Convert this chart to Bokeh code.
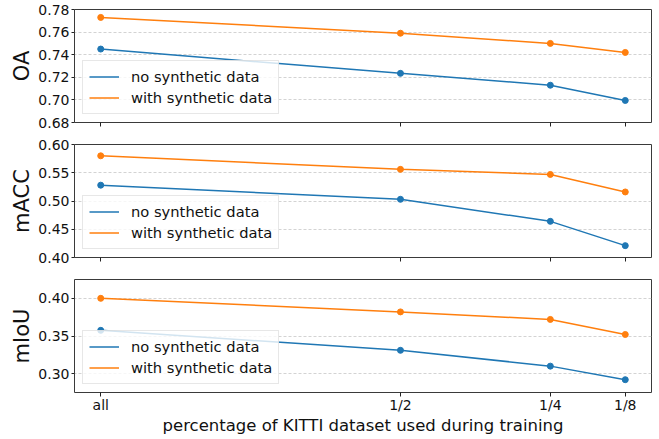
import math
from bokeh.plotting import figure
from bokeh.layouts import column, row
from bokeh.models import Range1d, FixedTicker, Legend, LegendItem
from bokeh.embed import file_html
from bokeh.resources import INLINE

# ---- data ----
fractions = [1.0, 0.5, 0.25, 0.125]
tick_labels = ["all", "1/2", "1/4", "1/8"]
series_names = ["no synthetic data", "with synthetic data"]

oa_no = [0.745, 0.7235, 0.713, 0.6995]
oa_with = [0.773, 0.759, 0.750, 0.742]

macc_no = [0.528, 0.503, 0.464, 0.421]
macc_with = [0.580, 0.556, 0.547, 0.516]

miou_no = [0.3575, 0.331, 0.310, 0.292]
miou_with = [0.400, 0.382, 0.372, 0.352]

metric_names = ["OA", "mACC", "mIoU"]
y_limits = [(0.68, 0.78), (0.40, 0.60), (0.275, 0.425)]
y_ticks = [[0.68, 0.70, 0.72, 0.74, 0.76, 0.78],
           [0.40, 0.45, 0.50, 0.55, 0.60],
           [0.30, 0.35, 0.40]]
no_series = [oa_no, macc_no, miou_no]
with_series = [oa_with, macc_with, miou_with]

BLUE = "#1f77b4"
ORANGE = "#ff7f0e"
FONT = "DejaVu Sans"
X_START, X_END = 1.04375, 0.08125

borders = [(9, 11), (11, 11), (11, 47)]
FRAME_H = 113
LABEL_W = 35        # width of the strip holding the rotated y-axis title
LABEL_CX = 21       # horizontal centre of that title
MAIN_W = 659 - LABEL_W

rows = []
n = len(metric_names)
for i in range(n):
    name = metric_names[i]
    yr = y_limits[i]
    yticks = y_ticks[i]
    last = i == n - 1
    top, bottom = borders[i]
    h = top + FRAME_H + bottom

    # --- strip with the y-axis title, frame aligned with the plot frame ---
    lab = figure(width=LABEL_W, height=h, output_backend="svg", toolbar_location=None,
                 x_range=Range1d(0, LABEL_W), y_range=Range1d(*yr),
                 min_border_left=0, min_border_right=0,
                 min_border_top=top, min_border_bottom=bottom)
    lab.xaxis.visible = False
    lab.yaxis.visible = False
    lab.xgrid.visible = False
    lab.ygrid.visible = False
    lab.outline_line_color = None
    lab.background_fill_color = "white"
    lab.border_fill_color = "white"
    lab.text(x=[LABEL_CX], y=[(yr[0] + yr[1]) / 2], text=[name],
             angle=math.pi / 2, angle_units="rad",
             text_align="center", text_baseline="middle",
             text_font={"value": FONT}, text_font_size={"value": "21px"},
             text_color="#111111")

    # --- main plot ---
    p = figure(width=MAIN_W, height=h, output_backend="svg", toolbar_location=None,
               x_range=Range1d(X_START, X_END), y_range=Range1d(*yr),
               min_border_left=73 - LABEL_W, min_border_right=8,
               min_border_top=top, min_border_bottom=bottom)
    p.outline_line_color = "#3a3a3a"
    p.outline_line_width = 1
    p.background_fill_color = "white"
    p.border_fill_color = "white"

    r1 = p.line(fractions, no_series[i], line_color=BLUE, line_width=1.5)
    p.scatter(fractions, no_series[i], size=6, color=BLUE)
    r2 = p.line(fractions, with_series[i], line_color=ORANGE, line_width=1.5)
    p.scatter(fractions, with_series[i], size=6, color=ORANGE)

    # x axis
    xa = p.xaxis[0]
    xa.ticker = FixedTicker(ticks=fractions)
    xa.minor_tick_line_color = None
    xa.axis_line_color = None
    xa.major_tick_in = 0
    xa.major_tick_out = 4
    xa.major_tick_line_color = "#222222"
    xa.major_label_text_font = FONT
    xa.major_label_text_font_size = "14px"
    xa.major_label_text_color = "#111111"
    if last:
        xa.major_label_overrides = {f: t for f, t in zip(fractions, tick_labels)}
        xa.major_label_standoff = 0
        xa.axis_label = "percentage of KITTI dataset used during training"
        xa.axis_label_text_font = FONT
        xa.axis_label_text_font_size = "16.5px"
        xa.axis_label_text_font_style = "normal"
        xa.axis_label_text_color = "#111111"
        xa.axis_label_standoff = 0
    else:
        xa.major_label_overrides = {f: "" for f in fractions}
        xa.major_label_standoff = 0

    # y axis
    ya = p.yaxis[0]
    ya.ticker = FixedTicker(ticks=yticks)
    ya.major_label_overrides = {t: f"{t:.2f}" for t in yticks}
    ya.minor_tick_line_color = None
    ya.axis_line_color = None
    ya.major_tick_in = 0
    ya.major_tick_out = 3
    ya.major_tick_line_color = "#222222"
    ya.major_label_text_font = FONT
    ya.major_label_text_font_size = "14px"
    ya.major_label_text_color = "#111111"
    ya.major_label_standoff = 2

    p.xgrid.grid_line_color = None
    p.ygrid.ticker = FixedTicker(ticks=yticks)
    p.ygrid.grid_line_color = "#c8c8c8"
    p.ygrid.grid_line_dash = "3 2"
    p.ygrid.grid_line_width = 0.8

    legend = Legend(items=[LegendItem(label=series_names[0], renderers=[r1]),
                           LegendItem(label=series_names[1], renderers=[r2])],
                    location="bottom_left")
    legend.margin = 8
    legend.padding = 6
    legend.spacing = 2
    legend.glyph_width = 30
    legend.glyph_height = 19
    legend.label_standoff = 12
    legend.label_text_font = FONT
    legend.label_text_font_size = "14.7px"
    legend.label_text_color = "#111111"
    legend.border_line_color = "#d0d0d0"
    legend.border_line_width = 1
    legend.background_fill_alpha = 0.8
    p.add_layout(legend, "center")

    rows.append(row(lab, p, spacing=0))

layout = column(*rows, spacing=0)
open("out.html", "w").write(file_html(layout, INLINE))
